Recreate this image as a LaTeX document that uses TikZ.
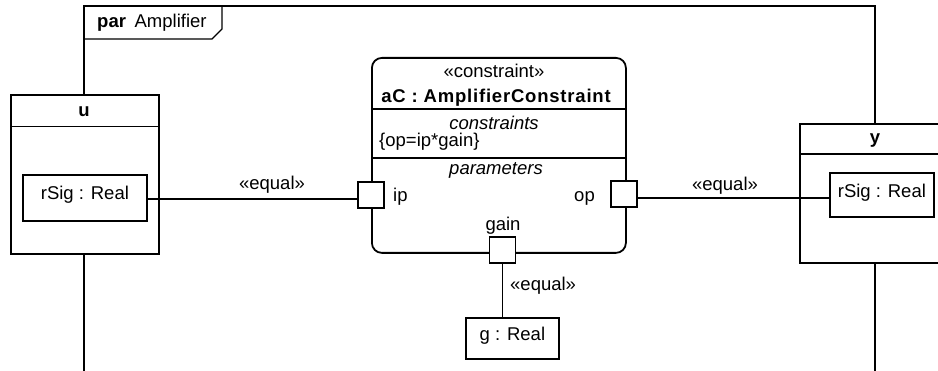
\documentclass[tikz,border=0pt]{standalone}
\usepackage{fontspec}
\setmainfont{Liberation Sans}
\begin{document}
\begin{tikzpicture}[x=1pt,y=-1pt,
  font=\fontsize{18.5}{22}\selectfont,
  frm/.style={draw=black, line width=1.1pt},
  blk/.style={draw=black, line width=1.8pt, fill=white, inner sep=0pt},
  sep/.style={draw=black, line width=1.6pt},
  port/.style={draw=black, line width=1.6pt, fill=white, minimum size=26pt, inner sep=0pt},
  con/.style={draw=black, line width=1.3pt},
  txt/.style={inner sep=0pt},
  bld/.style={font=\fontsize{18.5}{22}\selectfont\bfseries\addfontfeature{LetterSpace=4.3}},
  itl/.style={font=\fontsize{18.5}{22}\selectfont\itshape}]
\useasboundingbox (0,0) rectangle (938,371);
\clip (0,0) rectangle (938,371);
% frame
\draw[frm] (84,371) -- (84,6) -- (875,6) -- (875,371);
\draw[frm] (84,39) -- (212,39) -- (222,29) -- (222,6);
\node[txt, anchor=base west] (frlabel) at (97,28) {\textbf{par}\hspace{3.5pt} Amplifier};
% u block
\node[blk, minimum width=148pt, minimum height=159pt, anchor=north west] (u) at (10,94) {};
\draw[sep] (u.north west |- 0,126.5) -- (u.north east |- 0,126.5);
\node[txt, bld, anchor=base] (ulab) at (84,117) {u};
\node[blk, minimum width=124pt, minimum height=46pt, anchor=north west, text height=12pt, text depth=9pt] (r1) at (22,174) {rSig : Real};
% y block
\node[blk, minimum width=152pt, minimum height=139pt, anchor=north west] (y) at (799,123) {};
\draw[sep] (y.north west |- 0,154) -- (y.north east |- 0,154);
\node[txt, bld, anchor=base] (ylab) at (875,143.5) {y};
\node[blk, minimum width=104pt, minimum height=44pt, anchor=north west, text height=13pt, text depth=8pt] (r2) at (829,172) {rSig : Real};
% constraint block
\node[blk, rounded corners=10pt, minimum width=254pt, minimum height=195pt, anchor=north west] (ac) at (371,57) {};
\node[txt, anchor=base] (st) at (494,78) {«constraint»};
\node[txt, bld, anchor=base] (acname) at (496,102.5) {aC : AmplifierConstraint};
\draw[sep] (ac.west |- 0,109) -- (ac.east |- 0,109);
\node[txt, itl, anchor=base] (cons) at (494,130) {constraints};
\node[txt, anchor=base west] (expr) at (379,146.5) {\{op=ip*gain\}};
\draw[sep] (ac.west |- 0,158) -- (ac.east |- 0,158);
\node[txt, itl, anchor=base] (pars) at (496,175) {parameters};
% ports
\node[port] (ip) at (371,195) {};
\node[port] (op) at (624,194) {};
\node[port] (gain) at (502.5,250) {};
\node[txt, anchor=base west] (iplab) at (393,202) {ip};
\node[txt, anchor=base east] (oplab) at (595,201.5) {op};
\node[txt, anchor=base] (gainlab) at (503,231) {gain};
% g box
\node[blk, minimum width=93pt, minimum height=41pt, anchor=north west, text height=13pt, text depth=8pt] (g) at (465,317) {g : Real};
% connectors
\draw[con] (r1.east |- 0,199) -- (ip.west |- 0,199);
\node[txt, anchor=base] (eq1) at (272,190) {«equal»};
\draw[con] (op.east |- 0,198) -- (r2.west |- 0,198);
\node[txt, anchor=base] (eq2) at (725,190.5) {«equal»};
\draw[con] (gain.south) -- (gain.south |- g.north);
\node[txt, anchor=base west] (eq3) at (510,291) {«equal»};
\end{tikzpicture}
\end{document}
